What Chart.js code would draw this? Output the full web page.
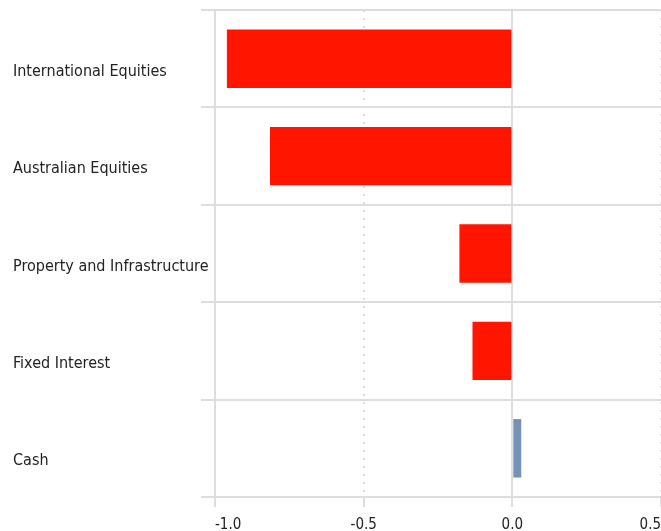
<!DOCTYPE html>
<html>
<head>
<meta charset="utf-8">
<script src="https://cdn.jsdelivr.net/npm/chart.js@4"></script>
<style>
  html, body { margin: 0; padding: 0; background: #fff; }
  #wrap { width: 661px; height: 531px; position: relative; }
</style>
</head>
<body>
<div id="wrap"><canvas id="myChart"></canvas></div>
<script>
const categories = ["International Equities", "Australian Equities", "Property and Infrastructure", "Fixed Interest", "Cash"];
const values = [-0.96, -0.815, -0.178, -0.134, 0.030];
const barColors = ["#ff1500", "#ff1500", "#ff1500", "#ff1500", "#7691b6"];
const xTicks = [-1.0, -0.5, 0.0, 0.5];

const fontFamily = "'Liberation Sans Narrow', 'DejaVu Sans Condensed', 'Liberation Sans', sans-serif";
const gridColor = "#dddddd";

const ctx = document.getElementById("myChart").getContext("2d");

const chart = new Chart(ctx, {
  type: "bar",
  data: {
    labels: categories,
    datasets: [{
      data: values,
      backgroundColor: barColors,
      borderWidth: 0,
      barPercentage: 0.6,
      categoryPercentage: 1.0
    }]
  },
  options: {
    indexAxis: "y",
    responsive: true,
    maintainAspectRatio: false,
    animation: false,
    layout: { padding: { left: 13, top: 10, right: 0, bottom: 0 } },
    plugins: {
      legend: { display: false },
      tooltip: { enabled: false }
    },
    scales: {
      x: {
        type: "linear",
        min: -1.0,
        max: 0.5,
        afterBuildTicks: function(scale) {
          scale.ticks = xTicks.map(v => ({ value: v }));
        },
        afterFit: function(scale) {
          scale.height = 34;
          scale.paddingLeft = 0;
          scale.paddingRight = 0;
        },
        grid: {
          color: gridColor,
          lineWidth: 2,
          tickLength: 10,
          tickColor: gridColor,
          tickWidth: 2
        },
        border: {
          display: false,
          dash: function(c) {
            if (!c.tick) return [];
            return (c.tick.value === 0 || c.tick.value === -1) ? [] : [2, 6];
          }
        },
        ticks: {
          align: "inner",
          padding: 9,
          color: "#222",
          font: { family: fontFamily, size: 15 },
          callback: function(v) { return Number(v).toFixed(1); }
        }
      },
      y: {
        afterFit: function(scale) {
          scale.width = 202;
          scale.paddingTop = 0;
          scale.paddingBottom = 0;
        },
        grid: {
          color: gridColor,
          lineWidth: 2,
          tickLength: 14,
          offset: true
        },
        border: { display: true, color: gridColor, width: 2 },
        ticks: {
          crossAlign: "far",
          labelOffset: 13,
          color: "#222",
          font: { family: fontFamily, size: 16 }
        }
      }
    }
  }
});
</script>
</body>
</html>
